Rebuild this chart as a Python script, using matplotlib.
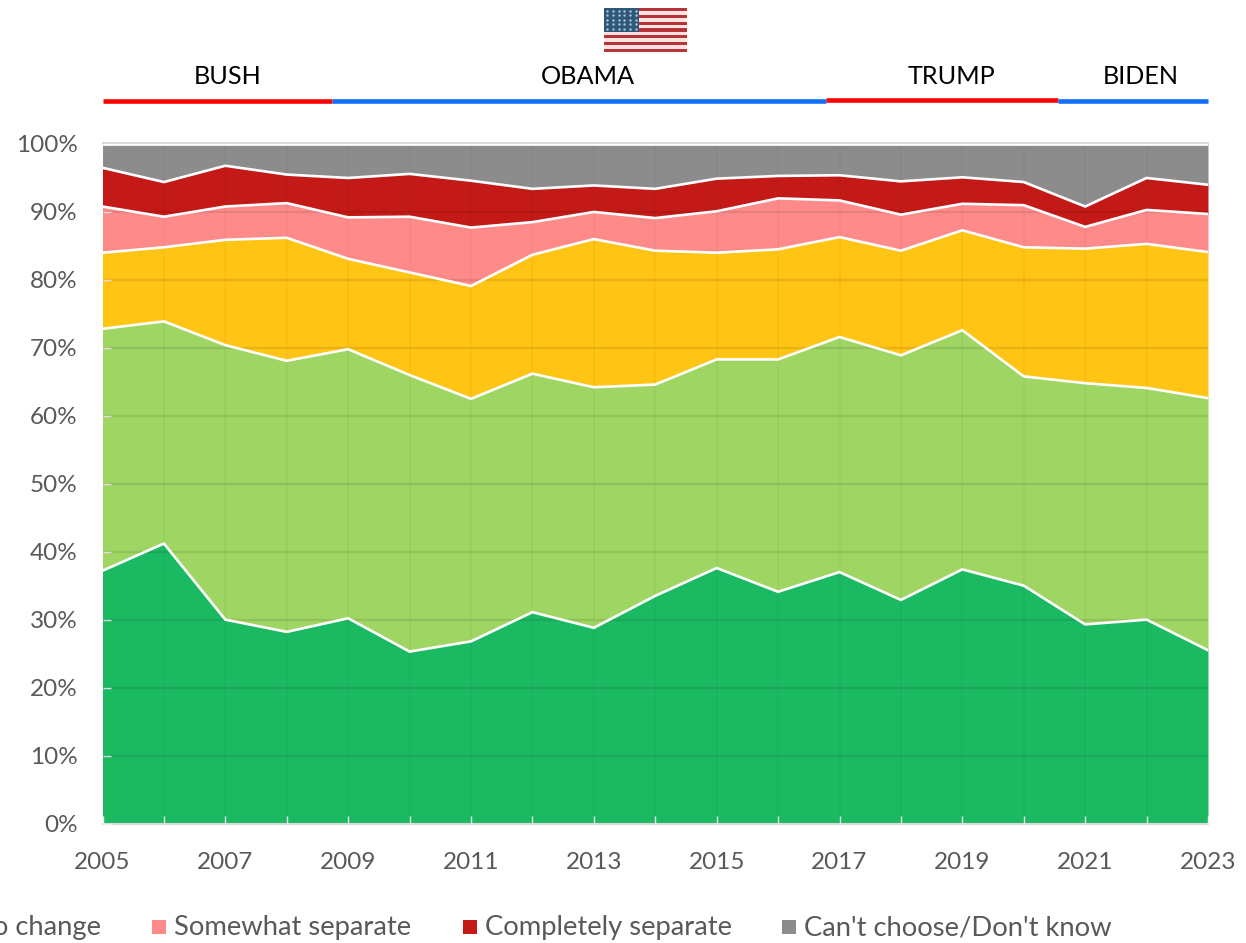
# Share of answers per year, stacked area chart with presidents on top
import numpy as np
import matplotlib
matplotlib.use("Agg")
import matplotlib.pyplot as plt
from matplotlib.patches import Rectangle
from matplotlib.transforms import blended_transform_factory

W, H = 1246, 943

# -----------------------------
# DATA
# -----------------------------
years = list(range(2005, 2024))

dark_green = [37.2, 41.2, 30.0, 28.2, 30.2, 25.3, 26.8, 31.1, 28.8, 33.5, 37.6, 34.1, 37.0, 32.9, 37.4, 35.0, 29.3, 30.0, 25.5]
light_green = [35.6, 32.7, 40.4, 39.9, 39.6, 40.7, 35.7, 35.1, 35.4, 31.1, 30.7, 34.2, 34.6, 36.0, 35.2, 30.8, 35.5, 34.1, 37.1]
no_change = [11.2, 10.9, 15.5, 18.1, 13.3, 15.1, 16.6, 17.5, 21.8, 19.7, 15.7, 16.2, 14.7, 15.4, 14.7, 19.0, 19.8, 21.2, 21.5]
somewhat_sep = [6.8, 4.5, 4.9, 5.1, 6.1, 8.2, 8.6, 4.8, 4.0, 4.8, 6.1, 7.5, 5.4, 5.3, 3.9, 6.2, 3.2, 5.0, 5.6]
complete_sep = [5.7, 5.1, 6.0, 4.2, 5.8, 6.3, 6.9, 4.9, 3.9, 4.3, 4.8, 3.3, 3.7, 4.9, 3.9, 3.4, 3.0, 4.7, 4.3]
dont_know = [3.5, 5.6, 3.2, 4.5, 5.0, 4.4, 5.4, 6.6, 6.1, 6.6, 5.1, 4.7, 4.6, 5.5, 4.9, 5.6, 9.2, 5.0, 6.0]

series = [dark_green, light_green, no_change, somewhat_sep, complete_sep, dont_know]
colors = ["#1BBA62", "#9FD563", "#FFC414", "#FF8A8A", "#C41A17", "#8C8C8C"]

presidents = ["BUSH", "OBAMA", "TRUMP", "BIDEN"]
term_edges = [2005, 2008.73, 2016.78, 2020.56, 2023]
term_colors = ["#FF0000", "#0F6FFF", "#FF0000", "#0F6FFF"]
label_years = [2007.03, 2012.9, 2018.83, 2021.9]

legend_labels = ["Somewhat separate", "Completely separate", "Can't choose/Don't know"]

plt.rcParams["font.family"] = ["Lato", "DejaVu Sans"]
TEXT = "#595959"

fig = plt.figure(figsize=(W / 100, H / 100), dpi=100)
ax = fig.add_axes([102.5 / W, 1 - 823.5 / H, 1105.5 / W, 679.5 / H])
ax.set_axisbelow(False)

# -----------------------------
# AREAS
# -----------------------------
bottom = np.zeros(len(years))
for values, color in zip(series, colors):
    top = bottom + np.array(values)
    ax.fill_between(years, bottom, top, color=color, lw=0, zorder=2)
    ax.plot(years, top, color="white", lw=1.9, zorder=4, solid_joinstyle="miter")
    bottom = top

# gridlines sit over the areas as a slight darkening
for y in range(10, 100, 10):
    ax.axhline(y, color="black", alpha=0.09, lw=1.6, zorder=3)
for x in years[1:-1]:
    ax.axvline(x, color="black", alpha=0.03, lw=1.2, zorder=3)
ax.axhline(100.1, color="#D9D9D9", lw=1.5, zorder=1, clip_on=False)

ax.set_xlim(2005, 2023)
ax.set_ylim(0, 100)
ax.set_xticks(years)
ax.set_xticklabels([str(y) if (y - 2005) % 2 == 0 else "" for y in years])
ax.set_yticks(range(0, 101, 10))
ax.set_yticklabels([f"{y}%" for y in range(0, 101, 10)])
ax.tick_params(axis="x", direction="in", length=5.5, width=1, color="#F2F2F2",
               labelsize=17.5, labelcolor=TEXT, pad=20.5)
ax.tick_params(axis="y", direction="in", length=5.5, width=1, color="#F2F2F2",
               labelsize=17.5, labelcolor=TEXT, pad=18)
for side in ["top", "right", "left"]:
    ax.spines[side].set_visible(False)
ax.spines["bottom"].set_color("#D9D9D9")
ax.spines["bottom"].set_linewidth(1.5)

# -----------------------------
# PRESIDENT BARS
# -----------------------------
trans = blended_transform_factory(ax.transData, ax.transAxes)
for i, name in enumerate(presidents):
    y_bar = 1.0642 if name == "TRUMP" else 1.0628
    ax.plot(term_edges[i:i + 2], [y_bar, y_bar], color=term_colors[i], lw=3.3,
            transform=trans, clip_on=False, solid_capstyle="butt")
    ax.text(label_years[i], 1.0995, name, transform=trans, ha="center", va="center",
            fontsize=18.2, color="black")

# -----------------------------
# FLAG
# -----------------------------
flag = fig.add_axes([604 / W, 1 - 52 / H, 83 / W, 44 / H])
flag.set_xlim(0, 83)
flag.set_ylim(44, 0)
flag.axis("off")
stripe_h = 44 / 13
for i in range(13):
    flag.add_patch(Rectangle((0, i * stripe_h), 83, stripe_h, lw=0,
                             color="#B5343A" if i % 2 == 0 else "#FBE3E0"))
flag.add_patch(Rectangle((0, 0), 35, 24, lw=0, color="#2F5878"))
star_x, star_y = np.meshgrid(np.arange(3, 35, 5.8), np.arange(3, 24, 4.4))
flag.scatter(star_x.ravel(), star_y.ravel(), s=3, color="#A9C6DA", lw=0)

# -----------------------------
# LEGEND (runs off the left edge like the original)
# -----------------------------
fig.text(101 / W, 1 - 928 / H, "No change", ha="right", va="center", fontsize=19.7, color=TEXT)
for label, color, sq_x, txt_x in zip(legend_labels, colors[3:], [152, 463, 782], [174, 485, 804]):
    fig.add_artist(Rectangle((sq_x / W, 1 - 934 / H), 14 / W, 14 / H, transform=fig.transFigure,
                             color=color, lw=0))
    fig.text(txt_x / W, 1 - 928 / H, label, ha="left", va="center", fontsize=19.7, color=TEXT)

fig.savefig("out.png", dpi=100)
